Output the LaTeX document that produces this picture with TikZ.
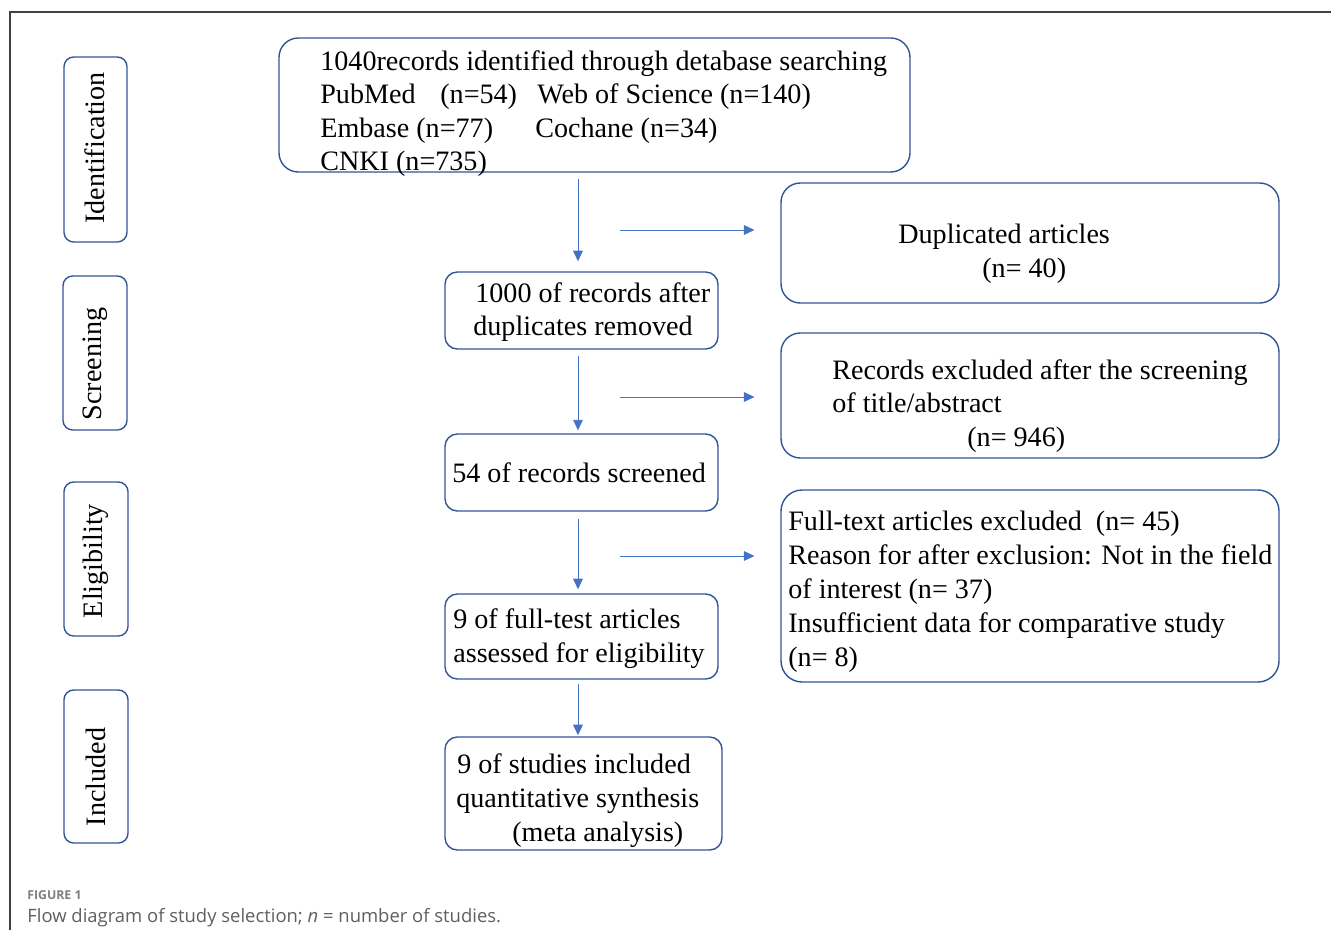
\documentclass[tikz,border=0pt]{standalone}
\usepackage{fontspec}
\setmainfont{Liberation Serif}
\newfontfamily\capfont{Open Sans}
\usetikzlibrary{arrows.meta,fit}
\definecolor{boxblue}{RGB}{47,85,151}
\definecolor{arrblue}{RGB}{68,114,196}
\definecolor{framegray}{RGB}{64,64,64}
\definecolor{capgray}{RGB}{95,95,95}
\tikzset{
  box/.style={draw=boxblue, line width=0.8pt, rounded corners=#1, inner sep=0pt},
  box/.default=7pt,
  txt/.style={anchor=base west, inner sep=0pt, font=\fontsize{16}{19}\selectfont},
  stage/.style={rotate=90, inner sep=0pt, font=\fontsize{16}{19}\selectfont},
  arr/.style={draw=arrblue, line width=0.55pt, -{Triangle[length=6pt,width=5.5pt]}},
}
\begin{document}
\begin{tikzpicture}[x=0.02cm,y=-0.02cm]
\useasboundingbox (0,0) rectangle (1331,930);
\draw[framegray,line width=1.1pt] (10,930) -- (10,12) -- (1331,12);

% stages
\node[box=5.5pt, fit={(64,57) (127,242)}] (ident) {};
\node[stage] (identL) at (95,148) {Identification};
\node[box=5.5pt, fit={(63,276) (127,430)}] (screen) {};
\node[stage] (screenL) at (95,364) {Screening};
\node[box=5.5pt, fit={(64,482) (128,636)}] (elig) {};
\node[stage] (eligL) at (96,561) {Eligibility};
\node[box=5.5pt, fit={(64,690) (128,843)}] (incl) {};
\node[stage] (inclL) at (96,777) {Included};

% main column
\node[box=11pt, fit={(279,38) (910,172)}] (top) {};
\node[txt] (top1) at (320,70) {1040records identified through detabase searching};
\node[txt] (top2) at (320,103) {PubMed};
\node[txt] (top2b) at (440,103) {(n=54)};
\node[txt] (top2c) at (537,103) {Web of Science (n=140)};
\node[txt] (top3) at (320,137) {Embase (n=77)};
\node[txt] (top3b) at (535,137) {Cochane (n=34)};
\node[txt] (top4) at (320,170) {CNKI (n=735)};

\node[box, fit={(445,272) (718,349)}] (rec) {};
\node[txt] (rec1) at (475,302) {1000 of records after};
\node[txt] (rec2) at (473,335) {duplicates removed};

\node[box, fit={(445,434) (718,511)}] (scr) {};
\node[txt] (scr1) at (452,482) {54 of records screened};

\node[box, fit={(445,594) (718,679)}] (full) {};
\node[txt] (full1) at (453,628) {9 of full-test articles};
\node[txt] (full2) at (453,662) {assessed for eligibility};

\node[box, fit={(445,737) (722,850)}] (stud) {};
\node[txt] (stud1) at (457,773) {9 of studies included};
\node[txt] (stud2) at (456,807) {quantitative synthesis};
\node[txt] (stud3) at (512,841) {(meta analysis)};

% exclusions
\node[box=11pt, fit={(781,183) (1279,303)}] (dup) {};
\node[txt] (dup1) at (898,243) {Duplicated articles};
\node[txt] (dup2) at (982,277) {(n= 40)};

\node[box=11pt, fit={(781,333) (1279,458)}] (excl) {};
\node[txt] (excl1) at (832,379) {Records excluded after the screening};
\node[txt] (excl2) at (832,412) {of title/abstract};
\node[txt] (excl3) at (967,446) {(n= 946)};

\node[box=12pt, fit={(781,490) (1279,682)}] (ftx) {};
\node[txt] (ftx1) at (788,530) {Full-text articles excluded\ \ (n= 45)};
\node[txt] (ftx2) at (788,564) {Reason for after exclusion: Not in the field};
\node[txt] (ftx3) at (788,598) {of interest (n= 37)};
\node[txt] (ftx4) at (788,632) {Insufficient data for comparative study};
\node[txt] (ftx5) at (788,666) {(n= 8)};

% arrows
\draw[arr,shorten <=3.4pt,shorten >=5.7pt] ([xshift=-2pt]top.south -| rec.north) -- ([xshift=-2pt]rec.north);
\draw[arr,shorten <=3.4pt,shorten >=1.7pt] ([xshift=-2pt]rec.south) -- ([xshift=-2pt]scr.north);
\draw[arr,shorten <=4pt,shorten >=2.3pt] ([xshift=-2pt]scr.south) -- ([xshift=-2pt]full.north);
\draw[arr,shorten <=2.3pt,shorten >=0.6pt] ([xshift=-2pt]full.south) -- ([xshift=-2pt]full.south |- stud.north);
\coordinate (h1) at (620,230);
\coordinate (h2) at (620,397);
\coordinate (h3) at (620,556);
\draw[arr,shorten >=14.7pt] (h1) -- (h1 -| dup.west);
\draw[arr,shorten >=14.7pt] (h2) -- (h2 -| excl.west);
\draw[arr,shorten >=14.7pt] (h3) -- (h3 -| ftx.west);

% caption
\node[anchor=base west,inner sep=0pt,font=\capfont\bfseries\fontsize{7}{9}\selectfont,text=capgray!80] (fig) at (27,899) {FIGURE 1};
\node[anchor=base west,inner sep=0pt,font=\capfont\fontsize{10.5}{12}\selectfont,text=capgray] (cap) at (27,922) {Flow diagram of study selection; \textit{n} = number of studies.};
\end{tikzpicture}
\end{document}
